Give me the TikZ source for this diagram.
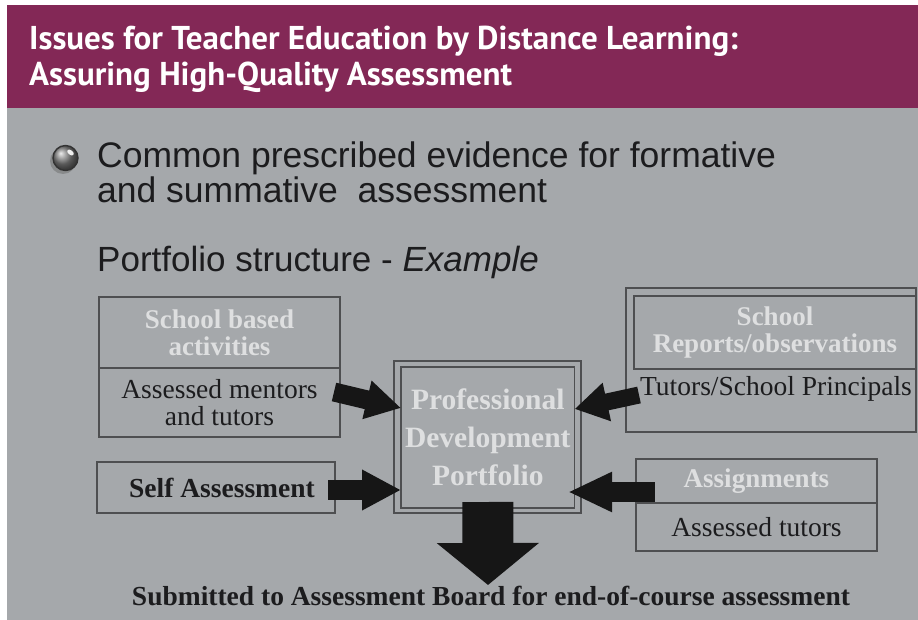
\documentclass[tikz,border=0pt]{standalone}
\usepackage{fontspec}
\setmainfont{Liberation Serif}
\newfontfamily\titlefont{PT Sans}
\newfontfamily\slidefont{Liberation Sans}
\usetikzlibrary{arrows.meta,calc}

\definecolor{bandmaroon}{HTML}{832856}
\definecolor{slidegray}{HTML}{A5A8AB}
\definecolor{boxline}{HTML}{4E4F51}
\definecolor{lighttext}{HTML}{DEDFE0}
\definecolor{darktext}{HTML}{1C1C1E}
\definecolor{arrowfill}{HTML}{161616}

\tikzset{
  panel/.style={draw=boxline, line width=1.6pt, inner sep=0pt, outer sep=0pt, align=center},
  headtext/.style={text=lighttext, font=\fontsize{27}{27}\selectfont\bfseries},
  bodytext/.style={text=darktext, font=\fontsize{27.5}{27}\selectfont},
  blockarrow/.style n args={3}{color=arrowfill, line width=#1, line cap=butt,
    -{Triangle[length=#2,width=#3]}},
  slidetext/.style={anchor=base west, inner sep=0pt, text=darktext,
    font=\slidefont\fontsize{35.5}{40}\selectfont},
  titletext/.style={anchor=base west, inner sep=0pt, text=white,
    font=\titlefont\bfseries\fontsize{33}{37}\selectfont},
}

\begin{document}
\begin{tikzpicture}[x=1pt,y=-1pt]
  \useasboundingbox (0,0) rectangle (918,620);
  \fill[white] (0,0) rectangle (918,620);
  % title band and slide area
  \fill[slidegray] (7,108) rectangle (918,620);
  \fill[bandmaroon] (7,5) rectangle (918,108);
  \node[titletext] (title1) at (29,50) {Issues for Teacher Education by Distance Learning:};
  \node[titletext] (title2) at (29,86) {Assuring High-Quality Assessment};

  % bullet ball
  \fill[black!60, opacity=0.45] (63,161) circle (13);
  \shade[ball color=black!50] (65.5,158) circle (12.5);
  \draw[black!80, line width=1.4pt] (65.5,158) circle (12.5);
  \fill[white, opacity=0.9, rotate around={-40:(70.5,152.5)}] (70.5,152.5) ellipse (3.8 and 2.3);

  % bullet text
  \node[slidetext] (line1) at (97,168) {Common prescribed evidence for formative};
  \node[slidetext] (line2) at (97,203) {and summative\ \ assessment};
  \node[slidetext, font=\slidefont\fontsize{35}{40}\selectfont] (line3) at (97,272)
    {Portfolio structure - \textit{Example}};

  % left column
  \node[panel, minimum width=241pt, minimum height=71pt, headtext] (sbaHead) at (219.5,332.5)
    {School based\\activities};
  \node[panel, minimum width=241pt, minimum height=69pt, bodytext] (sbaBody) at (219.5,402.5)
    {Assessed mentors\\and tutors};
  \node[panel, minimum width=238pt, minimum height=51pt, bodytext, font=\fontsize{27.5}{27}\selectfont\bfseries]
    (self) at (216,487.5) {\hspace*{12pt}Self Assessment};

  % central portfolio box
  \node[panel, minimum width=187pt, minimum height=152pt] (pdpOuter) at (487.25,437) {};
  \node[panel, minimum width=173.6pt, minimum height=141pt, text=lighttext,
    font=\fontsize{29.5}{38}\selectfont\bfseries] (pdp) at (487.8,437.5)
    {Professional\\Development\\Portfolio};

  % right column
  \node[panel, minimum width=290pt, minimum height=144pt] (repOuter) at (771,360) {};
  \node[panel, minimum width=282pt, minimum height=73pt, headtext] (repHead) at (775,332.5)
    {School\\Reports/observations};
  \node[anchor=base, inner sep=0pt, bodytext] (tutors) at (776,395) {Tutors/School Principals};

  \node[panel, minimum width=241pt, minimum height=44pt, headtext] (asgHead) at (756.5,481)
    {\raisebox{-3pt}{Assignments}};
  \node[panel, minimum width=241pt, minimum height=48pt, bodytext] (asgBody) at (756.5,527)
    {Assessed tutors};

  % bottom line
  \node[anchor=base, inner sep=0pt, text=darktext, font=\fontsize{27.5}{30}\selectfont\bfseries]
    (submit) at (491,605) {Submitted to Assessment Board for end-of-course assessment};

  % block arrows into and out of the portfolio
  \coordinate (tailA) at (334,392);
  \coordinate (tailB) at (328,490);
  \coordinate (tailC) at (639,395);
  \coordinate (tailD) at (654.5,492);
  \coordinate (downTip) at (488,585);
  \draw[blockarrow={19pt}{35pt}{37pt}] (tailA) -- ([yshift=29.5pt]pdp.west);
  \draw[blockarrow={20pt}{39pt}{38pt}] (tailB) -- ([yshift=-52.5pt]pdp.west);
  \draw[blockarrow={17pt}{33pt}{37pt}] (tailC) -- ([yshift=28.5pt]pdp.east);
  \draw[blockarrow={20pt}{44pt}{37pt}] (tailD) -- ([xshift=-6.6pt,yshift=-54.5pt]pdp.east);
  \draw[blockarrow={51pt}{42pt}{100pt}] ([yshift=6pt]pdp.south) -- (downTip);
\end{tikzpicture}
\end{document}
